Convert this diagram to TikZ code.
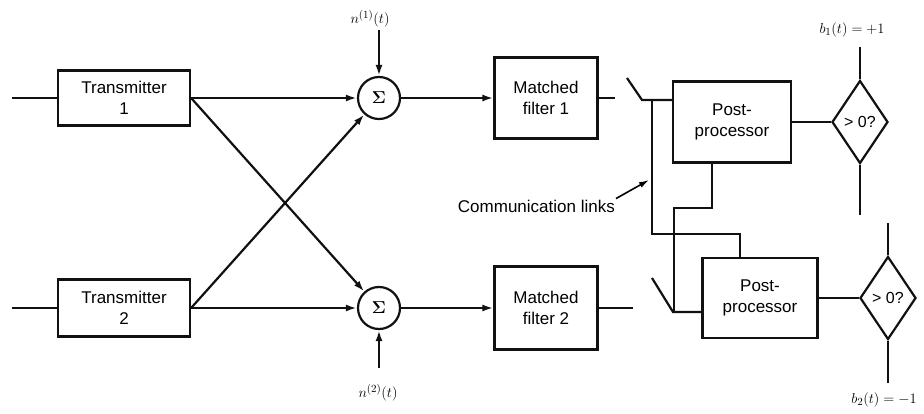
\documentclass[tikz,border=0pt]{standalone}
\usepackage{amsmath,amssymb}
\usepackage{fontspec}
\setmainfont{Liberation Sans}
\usepackage{tikz}
\usepackage{xcolor}
\usetikzlibrary{shapes,arrows.meta,positioning,calc}
\definecolor{InkBlack}{HTML}{111111}
\definecolor{PaperWhite}{HTML}{ffffff}
\tikzset{
    % Base block style
    blockbox/.style={
        draw=InkBlack,
        fill=PaperWhite,
        line width=2.2pt,
        rectangle,
        inner sep=2pt,
        align=center,
        font=\fontsize{17}{21}\selectfont
    },
    % Summing junction
    sumnode/.style={
        draw=InkBlack,
        line width=2.2pt,
        circle,
        minimum size=42pt,
        inner sep=0pt,
        font=\fontsize{19}{21}\selectfont\boldmath
    },
    % Decision diamond
    decnode/.style={
        draw=InkBlack,
        line width=2.2pt,
        diamond,
        inner sep=0pt,
        minimum width=56pt,
        minimum height=83pt,
        font=\fontsize{16}{18}\selectfont
    },
    % Arrow style
    myarrow/.style={
        -{Latex[length=11pt,width=7pt]},
        line width=2.2pt,
        draw=InkBlack
    },
    % Plain wire
    wire/.style={
        line width=2.2pt,
        draw=InkBlack
    },
    % Small labels
    lbl/.style={
        font=\fontsize{15}{17}\selectfont,
        inner sep=1pt
    }
}

\begin{document}
\begin{tikzpicture}[x=1pt, y=-1pt]
        \useasboundingbox (0,0) rectangle (924,414);

        % Transmitters
        \coordinate (in1) at (12,98);
        \coordinate (in2) at (12,308);
        \node[blockbox, minimum width=132pt, minimum height=55pt] (tx1) at (124,98) {Transmitter\\1};
        \node[blockbox, minimum width=132pt, minimum height=57pt] (tx2) at (124,308) {Transmitter\\2};

        % Summing junctions and noise
        \node[sumnode] (sum1) at (379,98) {$\Sigma$};
        \node[sumnode] (sum2) at (379,308) {$\Sigma$};
        \node[lbl] (n1) at (370,19) {$n^{(1)}(t)$};
        \node[lbl] (n2) at (378,393) {$n^{(2)}(t)$};
        \coordinate (n1src) at (379,30);
        \coordinate (n2src) at (379,368);

        % Matched filters
        \node[blockbox, minimum width=103pt, minimum height=81pt] (mf1) at (546,98) {Matched\\filter 1};
        \node[blockbox, minimum width=103pt, minimum height=83pt] (mf2) at (546,308) {Matched\\filter 2};
        \coordinate (mf1out) at (615,98);
        \coordinate (mf2out) at (633,308);

        % Switches
        \coordinate (sw1a) at (627,78);
        \coordinate (sw1b) at (642,100);
        \coordinate (sw2a) at (652,278);
        \coordinate (sw2b) at (673,312);

        % Post-processors and decisions
        \node[blockbox, minimum width=118pt, minimum height=81pt] (pp1) at (732,122) {Post-\\processor};
        \node[blockbox, minimum width=115pt, minimum height=80pt] (pp2) at (760,298) {Post-\\processor};
        \node[decnode] (dec1) at (860,122) {> 0?};
        \node[decnode] (dec2) at (888,298) {> 0?};
        \coordinate (d1top) at (860,47);
        \coordinate (d1bot) at (860,215);
        \coordinate (d2top) at (888,223);
        \coordinate (d2bot) at (888,383);
        \node[lbl] (b1) at (852,30) {$b_1(t) = +1$};
        \node[lbl] (b2) at (884,400) {$b_2(t) = -1$};

        % Communication links
        \coordinate (tapa) at (652,100);
        \coordinate (ja) at (740,234);
        \coordinate (kb) at (712,208);
        \coordinate (kc) at (674,208);
        \coordinate (linkpt) at (649,180);
        \node[font=\fontsize{17}{20}\selectfont, anchor=east, inner sep=1pt] (links) at (616,206) {Communication links};

        % Signal paths
        \draw[wire] (in1) -- (tx1.west);
        \draw[wire] (in2) -- (tx2.west);
        \draw[myarrow] (tx1.east) -- (sum1);
        \draw[myarrow] (tx2.east) -- (sum2);
        \draw[myarrow] (tx1.east) -- (sum2);
        \draw[myarrow] (tx2.east) -- (sum1);
        \draw[myarrow] (n1src) -- (sum1.north);
        \draw[myarrow] (n2src) -- (sum2.south);
        \draw[myarrow] (sum1) -- (mf1);
        \draw[myarrow] (sum2) -- (mf2);
        \draw[wire] (mf1.east) -- (mf1out);
        \draw[wire] (mf2.east) -- (mf2out);

        % Switch contacts
        \draw[wire] (sw1a) -- (sw1b) -- (pp1.west |- sw1b);
        \draw[wire] (sw2a) -- (sw2b) -- (pp2.west |- sw2b);

        % Links between post-processors
        \draw[wire] (tapa) |- (ja) -- (ja |- pp2.north);
        \draw[wire] (kb |- pp1.south) -- (kb) -- (kc) -- (kc |- sw2b);
        \draw[-{Latex[length=10pt,width=6pt]}, line width=1.6pt] (links.north east) -- (linkpt);

        % Decision outputs
        \draw[wire] (pp1.east |- dec1) -- (dec1.west);
        \draw[wire] (pp2.east |- dec2) -- (dec2.west);
        \draw[wire] (dec1.north) -- (d1top);
        \draw[wire] (dec1.south) -- (d1bot);
        \draw[wire] (dec2.north) -- (d2top);
        \draw[wire] (dec2.south) -- (d2bot);
    \end{tikzpicture}
\end{document}
